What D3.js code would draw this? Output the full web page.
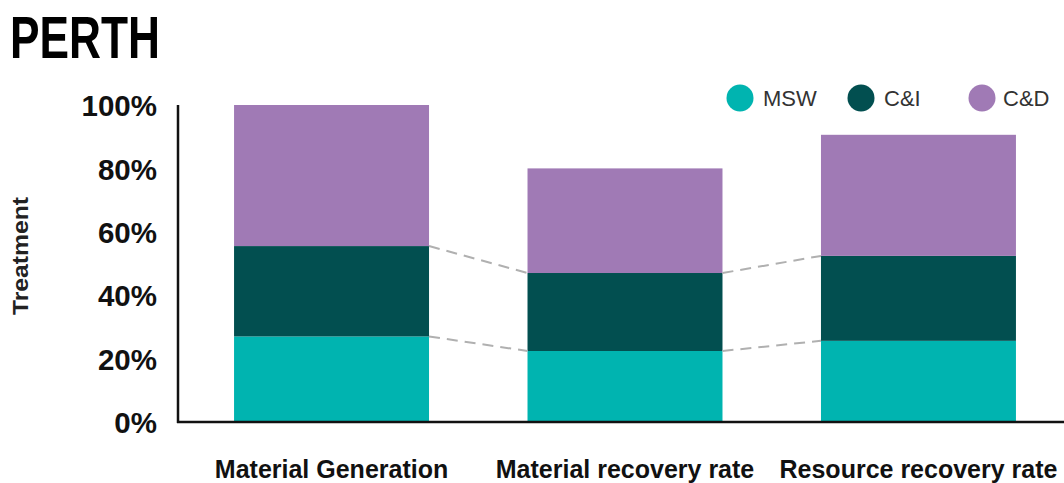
<!DOCTYPE html>
<html>
<head>
<meta charset="utf-8">
<script src="https://cdn.jsdelivr.net/npm/d3@7"></script>
<style>
  html, body { margin: 0; padding: 0; background: #fff; }
  svg { display: block; }
</style>
</head>
<body>
<svg id="chart" width="1064" height="483"></svg>
<script>
// Waste stream shares (%) for each stage, Perth
const categories = ["Material Generation", "Material recovery rate", "Resource recovery rate"];
const seriesNames = ["MSW", "C&I", "C&D"];
const msw = [27.0, 22.4, 25.6];
const ci  = [28.5, 24.6, 26.8];
const cd  = [44.5, 33.0, 38.2];
const yTicks = [0, 20, 40, 60, 80, 100];
const colors = ["#00b4b0", "#024f50", "#a07ab5"];

const svg = d3.select("#chart");
const margin = { left: 178, top: 105, bottom: 61 };
const W = 1064, H = 483;
const font = "'Liberation Sans', Arial, Helvetica, sans-serif";

const x = d3.scaleBand()
  .domain(categories)
  .range([margin.left, 1072])
  .paddingInner(0.3356)
  .paddingOuter(0.191);

const y = d3.scaleLinear()
  .domain([0, 100])
  .range([H - margin.bottom, margin.top]);

const rows = categories.map((c, i) => ({ cat: c, "MSW": msw[i], "C&I": ci[i], "C&D": cd[i] }));
const stacked = d3.stack().keys(seriesNames)(rows);

// Title
svg.append("text")
  .attr("x", 10).attr("y", 58)
  .attr("font-family", font)
  .attr("font-weight", "bold")
  .attr("font-size", 59)
  .attr("textLength", 150)
  .attr("lengthAdjust", "spacingAndGlyphs")
  .attr("fill", "#000")
  .text("PERTH");

// Stacked bars
const layer = svg.append("g").selectAll("g")
  .data(stacked).join("g")
  .attr("fill", (d, i) => colors[i]);

layer.selectAll("rect")
  .data(d => d)
  .join("rect")
  .attr("x", d => x(d.data.cat))
  .attr("width", x.bandwidth())
  .attr("y", d => y(d[1]))
  .attr("height", d => y(d[0]) - y(d[1]));

// Dashed connectors between tops of the lower two segments
const connectors = svg.append("g")
  .attr("stroke", "#b0b0b0")
  .attr("stroke-width", 2)
  .attr("stroke-dasharray", "11,7")
  .attr("fill", "none");

[0, 1].forEach(si => {
  for (let i = 0; i < categories.length - 1; i++) {
    const a = stacked[si][i], b = stacked[si][i + 1];
    connectors.append("line")
      .attr("x1", x(categories[i]) + x.bandwidth())
      .attr("y1", y(a[1]))
      .attr("x2", x(categories[i + 1]))
      .attr("y2", y(b[1]));
  }
});

// Axes
const axisG = svg.append("g").attr("stroke", "#111").attr("stroke-width", 2.5);
axisG.append("line")
  .attr("x1", margin.left).attr("x2", margin.left)
  .attr("y1", y(100)).attr("y2", y(0) + 1);
axisG.append("line")
  .attr("x1", margin.left - 1).attr("x2", W)
  .attr("y1", y(0)).attr("y2", y(0));

// Y tick labels
const yAxis = d3.axisLeft(y).tickValues(yTicks).tickFormat(d => d + "%").tickSize(0).tickPadding(0);
const yg = svg.append("g").attr("transform", `translate(${margin.left - 21},0)`).call(yAxis);
yg.select(".domain").remove();
yg.selectAll("text")
  .attr("font-family", font)
  .attr("font-weight", "bold")
  .attr("font-size", 29.5)
  .attr("fill", "#111")
  .attr("dy", "0.36em");

// Y axis title
svg.append("text")
  .attr("transform", `translate(28,256) rotate(-90)`)
  .attr("text-anchor", "middle")
  .attr("font-family", font)
  .attr("font-weight", "bold")
  .attr("font-size", 22)
  .attr("textLength", 118)
  .attr("lengthAdjust", "spacingAndGlyphs")
  .attr("fill", "#222")
  .text("Treatment");

// X category labels
const xAxis = d3.axisBottom(x).tickSize(0).tickPadding(0);
const xg = svg.append("g").attr("transform", `translate(0,${y(0)})`).call(xAxis);
xg.select(".domain").remove();
xg.selectAll("text")
  .attr("y", 56)
  .attr("dy", 0)
  .attr("font-family", font)
  .attr("font-weight", "bold")
  .attr("font-size", 25)
  .attr("fill", "#111");

// Legend
const legendX = d3.scalePoint().domain(seriesNames).range([740, 982]);
const leg = svg.append("g").selectAll("g")
  .data(seriesNames).join("g")
  .attr("transform", d => `translate(${legendX(d)},98)`);
leg.append("circle").attr("r", 13.5).attr("fill", (d, i) => colors[i]);
leg.append("text")
  .attr("x", (d, i) => i === 2 ? 21 : 23)
  .attr("dy", "0.36em")
  .attr("font-family", font)
  .attr("font-size", 22)
  .attr("fill", "#333")
  .text(d => d);
</script>
</body>
</html>
